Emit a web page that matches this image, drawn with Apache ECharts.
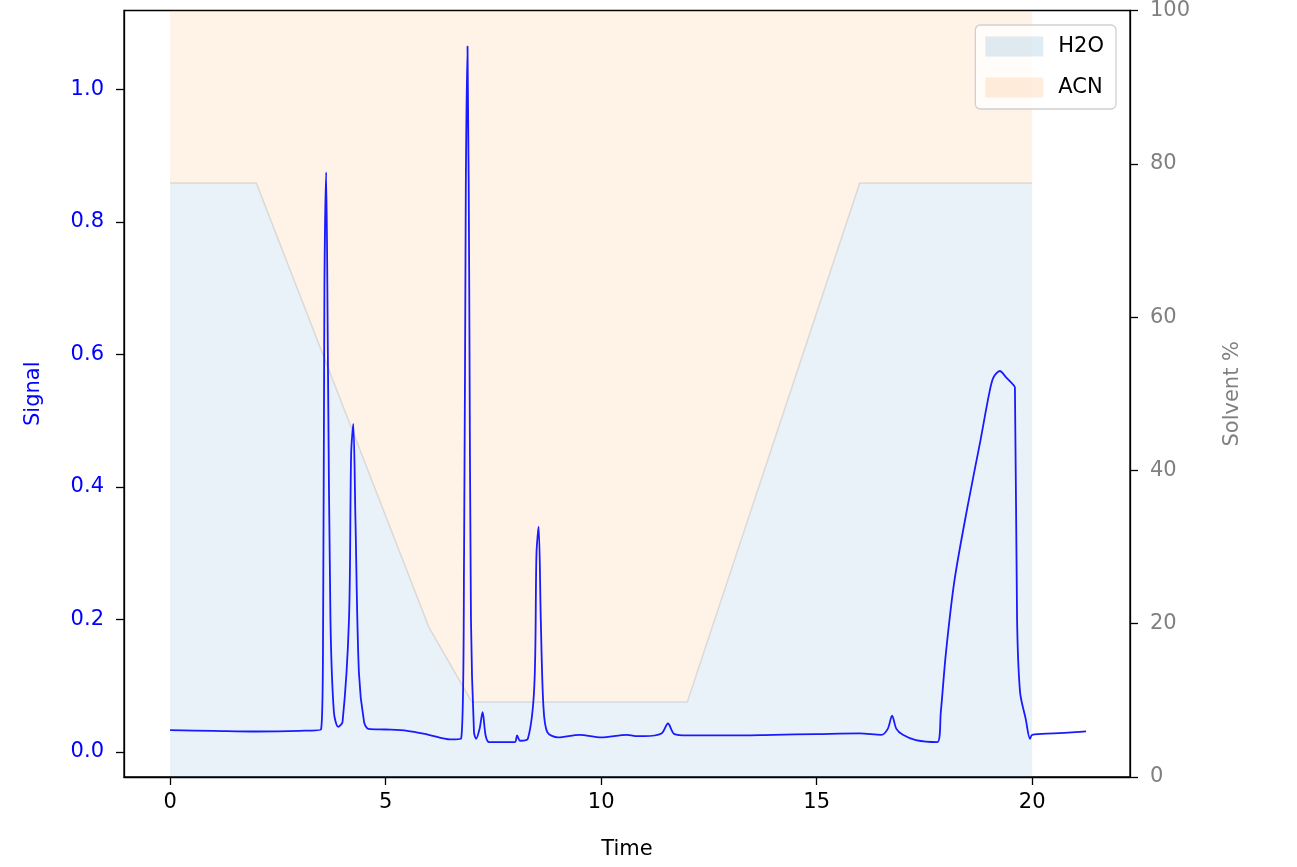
<!DOCTYPE html>
<html><head><meta charset="utf-8">
<script src="https://cdn.jsdelivr.net/npm/echarts@6/dist/echarts.min.js"></script>
<style>html,body{margin:0;padding:0;background:#fff}#c{width:1297px;height:867px}</style>
</head><body><div id="c"></div>
<script>
const solventTime = [0, 2, 6, 7, 12, 16, 20];
const h2oPct = [77.5, 77.5, 19.6, 9.8, 9.8, 77.5, 77.5];
const signalTime = [0,1,2,3,3.5,3.55,3.58,3.62,3.66,3.72,3.8,3.9,4.0,4.15,4.2,4.25,4.3,4.38,4.5,4.6,5,5.5,6,6.5,6.75,6.82,6.86,6.9,6.94,6.98,7.05,7.1,7.18,7.25,7.32,7.4,7.7,8.0,8.05,8.12,8.3,8.45,8.5,8.55,8.6,8.66,8.75,9.0,9.5,10,10.6,10.8,11.0,11.4,11.55,11.7,12,13,14,15,16,16.5,16.65,16.75,16.85,17.0,17.3,17.8,17.88,18.0,18.2,18.5,18.8,19.0,19.1,19.25,19.4,19.55,19.6,19.65,19.72,19.85,19.95,20.0,20.5,21.0,21.25];
const signalVal = [0.033,0.032,0.031,0.032,0.034,0.2,0.7,0.875,0.6,0.2,0.06,0.038,0.045,0.2,0.45,0.495,0.35,0.12,0.045,0.035,0.034,0.032,0.026,0.019,0.02,0.3,0.85,1.065,0.7,0.2,0.03,0.02,0.035,0.06,0.025,0.015,0.015,0.015,0.025,0.017,0.02,0.1,0.3,0.34,0.2,0.07,0.03,0.022,0.026,0.022,0.026,0.024,0.024,0.028,0.043,0.027,0.025,0.025,0.026,0.027,0.028,0.026,0.035,0.055,0.035,0.026,0.018,0.015,0.06,0.15,0.26,0.37,0.47,0.54,0.565,0.575,0.565,0.555,0.55,0.2,0.09,0.05,0.02,0.026,0.028,0.03,0.031];
const xTicks = [0,5,10,15,20];
const yTicks = [0,0.2,0.4,0.6,0.8,1.0];

const ch = echarts.init(document.getElementById('c'));
const fs = 21, font = 'DejaVu Sans';
const greyLine = 'rgba(128,128,128,0.22)';
const solventData = solventTime.map((t,i)=>[t,h2oPct[i]]);
ch.setOption({
  animation:false,
  textStyle:{fontFamily:font},
  grid:{left:124,right:167,top:10,bottom:90,show:true,borderColor:'#000',borderWidth:1.3},
  legend:{right:181,top:25,orient:'vertical',icon:'rect',itemWidth:58,itemHeight:20,itemGap:20,
    padding:[11,12,11,10],borderColor:'#d0d0d0',borderWidth:1.3,borderRadius:5,backgroundColor:'rgba(255,255,255,0.8)',
    textStyle:{fontSize:fs,color:'#000',padding:[0,0,0,10]},data:['H2O','ACN']},
  xAxis:{type:'value',min:-1.07,max:22.27,name:'Time',nameLocation:'middle',nameGap:62,position:'bottom',
    nameTextStyle:{fontSize:fs,color:'#000'},
    axisLine:{onZero:false,lineStyle:{color:'#000',width:1.3}},splitLine:{show:false},
    axisTick:{customValues:xTicks,length:8,lineStyle:{color:'#000',width:1.3}},
    axisLabel:{customValues:xTicks,fontSize:fs,color:'#000',margin:15}},
  yAxis:[
   {type:'value',min:0,max:100,interval:20,position:'right',name:'Solvent %',nameLocation:'middle',nameGap:92,
    nameTextStyle:{fontSize:fs,color:'#808080'},
    axisLine:{show:true,onZero:false,lineStyle:{color:'#000',width:1.3}},splitLine:{show:false},
    axisTick:{show:true,length:8,lineStyle:{color:'#000',width:1.3}},
    axisLabel:{fontSize:fs,color:'#808080',margin:20}},
   {type:'value',min:-0.0377,max:1.119,position:'left',name:'Signal',nameLocation:'middle',nameGap:80,
    nameTextStyle:{fontSize:fs,color:'#0000ff'},
    axisLine:{show:true,onZero:false,lineStyle:{color:'#000',width:1.3}},splitLine:{show:false},
    axisTick:{show:true,inside:false,customValues:yTicks,length:8,lineStyle:{color:'#000',width:1.3}},
    axisLabel:{customValues:yTicks,fontSize:fs,color:'#0000ff',margin:20,formatter:v=>v.toFixed(1)}}],
  series:[
    {name:'H2O',type:'line',yAxisIndex:0,symbol:'none',data:solventData,
      lineStyle:{color:greyLine,width:1.5},itemStyle:{color:'rgba(31,119,180,0.14)'},
      areaStyle:{color:'rgba(31,119,180,0.14)',origin:'start'}},
    {name:'ACN',type:'line',yAxisIndex:0,symbol:'none',data:solventData,
      lineStyle:{width:0},itemStyle:{color:'rgba(255,127,14,0.14)'},
      areaStyle:{color:'rgba(255,127,14,0.14)',origin:'end'}},
    {name:'Signal',type:'line',yAxisIndex:1,symbol:'none',smooth:0.3,z:5,
      data:signalTime.map((t,i)=>[t,signalVal[i]]),
      lineStyle:{color:'#1a1aff',width:1.8}}
  ]
});
</script></body></html>
